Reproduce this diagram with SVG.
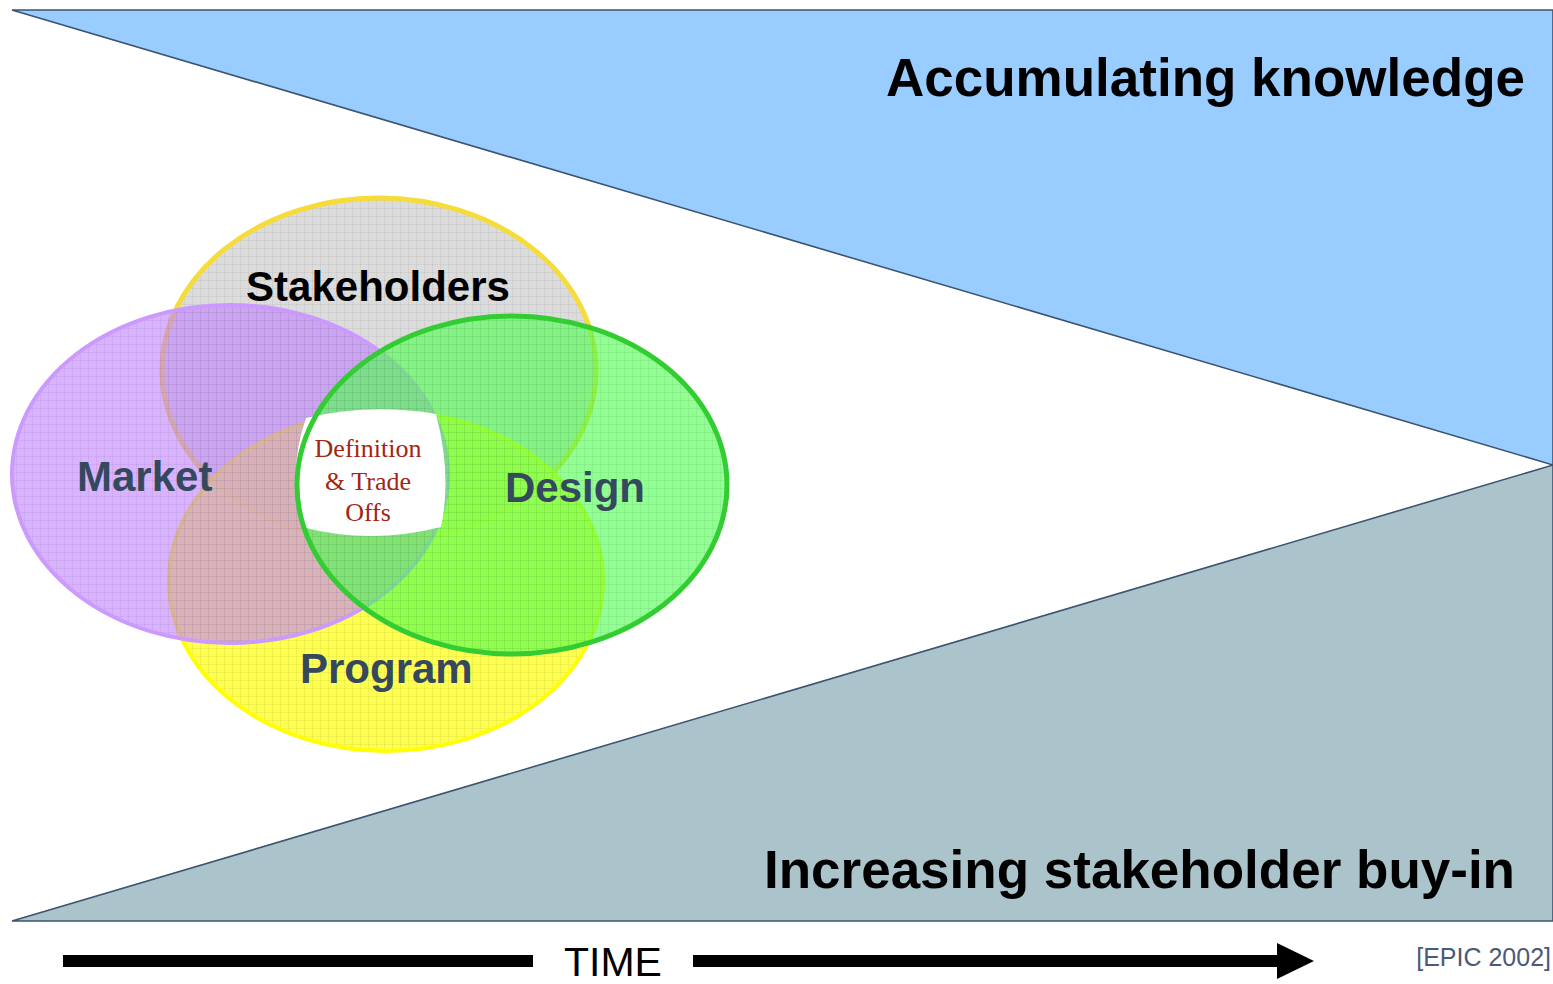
<svg xmlns="http://www.w3.org/2000/svg" width="1553" height="984" viewBox="0 0 1553 984">
<style>
.big{font-family:"Liberation Sans",Arial,sans-serif;font-weight:bold;font-size:53px;fill:#000;}
.lbl{font-family:"Liberation Sans",Arial,sans-serif;font-weight:bold;font-size:42px;fill:#35495e;}
.ctr{font-family:"Liberation Serif","Times New Roman",serif;font-size:26px;fill:#a32512;}
.tri{stroke:#3b5470;stroke-width:1.6;}
</style>
<defs>
<pattern id="grid" width="8" height="8" patternUnits="userSpaceOnUse">
<path d="M0 0.5H8M0.5 0V8" stroke="#000" stroke-opacity="0.05" stroke-width="1" fill="none"/>
</pattern>
</defs>
<rect width="1553" height="984" fill="#fff"/>
<g id="knowledge">
<polygon class="tri" points="12,10 1553,10 1553,465" fill="#99ccff"/>
<text class="big" x="1525" y="96" text-anchor="end">Accumulating knowledge</text>
</g>
<g id="buyin">
<polygon class="tri" points="12,921 1553,465 1553,921" fill="#abc4cc"/>
<text class="big" x="1515" y="888" text-anchor="end">Increasing stakeholder buy-in</text>
</g>
<g id="stakeholders">
<ellipse cx="379" cy="370" rx="217" ry="172" fill="#dcdcdc"/>
<ellipse cx="379" cy="370" rx="217" ry="172" fill="url(#grid)" stroke="#f5dc3a" stroke-width="5"/>
</g>
<g id="program">
<ellipse cx="386" cy="581" rx="217" ry="170" fill="#ffff33" fill-opacity="0.85"/>
<ellipse cx="386" cy="581" rx="217" ry="170" fill="url(#grid)" stroke="#ffff00" stroke-width="4"/>
</g>
<g id="market">
<ellipse cx="230" cy="474" rx="218" ry="169" fill="#c080ff" fill-opacity="0.6"/>
<ellipse cx="230" cy="474" rx="218" ry="169" fill="url(#grid)" stroke="#cc99ff" stroke-width="4"/>
</g>
<g id="design">
<ellipse cx="512" cy="485" rx="215" ry="169" fill="#4dff4d" fill-opacity="0.62"/>
<ellipse cx="512" cy="485" rx="215" ry="169" fill="url(#grid)"/>
</g>
<g id="definition">
<path d="M306,418 Q370,403 436,414 Q452,475 441,527 Q370,545 302,527 Q287,472 306,418 Z" fill="#fff"/>
<text class="ctr" x="368" y="457" text-anchor="middle">Definition</text>
<text class="ctr" x="368" y="490" text-anchor="middle">&amp; Trade</text>
<text class="ctr" x="368" y="521" text-anchor="middle">Offs</text>
</g>
<ellipse cx="512" cy="485" rx="215" ry="169" fill="none" stroke="#33cc33" stroke-width="5"/>
<g id="labels">
<text class="lbl" x="378" y="301" text-anchor="middle" style="fill:#000">Stakeholders</text>
<text class="lbl" x="77" y="491">Market</text>
<text class="lbl" x="505" y="502">Design</text>
<text class="lbl" x="300" y="683">Program</text>
</g>
<g id="connectors">
<rect x="63" y="955" width="470" height="12" fill="#000"/>
<rect x="693" y="955" width="588" height="12" fill="#000"/>
<polygon points="1277,943 1314,961 1277,979" fill="#000"/>
</g>
<g id="time">
<text x="613" y="976" text-anchor="middle" style="font-family:'Liberation Sans',Arial,sans-serif;font-size:41px;fill:#000">TIME</text>
</g>
<g id="source">
<text x="1551" y="966" text-anchor="end" style="font-family:'Liberation Sans',Arial,sans-serif;font-size:25px;fill:#4a5a78">[EPIC 2002]</text>
</g>
</svg>
